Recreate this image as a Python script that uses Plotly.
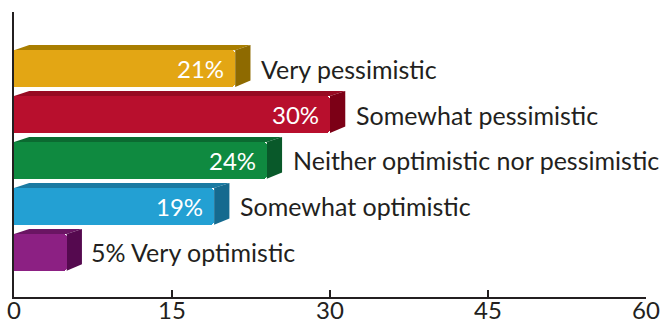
import plotly.graph_objects as go

categories = ["Very pessimistic", "Somewhat pessimistic", "Neither optimistic nor pessimistic",
              "Somewhat optimistic", "Very optimistic"]
values = [21, 30, 24, 19, 5]
front_colors = ["#E3A614", "#B80F2D", "#0F8A40", "#23A0D3", "#8C2083"]
top_colors = ["#A97E00", "#970A22", "#0B6A31", "#1A7AA2", "#6A1563"]
side_colors = ["#8E6A00", "#7C0016", "#09592A", "#156A8F", "#55094F"]
x_ticks = [0, 15, 30, 45, 60]

FONT = "Lato"
FS = 25
n = len(values)
pos = [n - 1 - i for i in range(n)]  # top to bottom
half = 0.4
depth = 1.45
lift = 0.11

fig = go.Figure()
fig.add_trace(go.Bar(
    x=values, y=pos, orientation="h", width=2 * half,
    marker=dict(color=front_colors, line=dict(width=0), cornerradius=4),
    hoverinfo="skip", showlegend=False,
))

shapes = []
annotations = []
for v, p, cat, tc, sc in zip(values, pos, categories, top_colors, side_colors):
    y0, y1 = p - half, p + half
    shapes.append(dict(type="path", xref="x", yref="y", layer="below",
                       path=f"M 0,{y1} L {v},{y1} L {v+depth},{y1+lift} L {depth},{y1+lift} Z",
                       fillcolor=tc, line=dict(width=0)))
    shapes.append(dict(type="path", xref="x", yref="y", layer="below",
                       path=f"M {v},{y0} L {v},{y1} L {v+depth},{y1+lift} L {v+depth},{y0+lift+0.03} Z",
                       fillcolor=sc, line=dict(width=0)))
    if v >= 10:
        annotations.append(dict(x=v, y=p, xref="x", yref="y", text=f"{v}%",
                                xanchor="right", yanchor="middle", xshift=-9, showarrow=False,
                                font=dict(family=FONT, size=FS - 1, color="white")))
        annotations.append(dict(x=v + depth, y=p, xref="x", yref="y", text=cat,
                                xanchor="left", yanchor="middle", xshift=9, showarrow=False,
                                font=dict(family=FONT, size=FS, color="#231F20")))
    else:
        annotations.append(dict(x=v + depth, y=p, xref="x", yref="y", text=f"{v}% {cat}",
                                xanchor="left", yanchor="middle", xshift=7, showarrow=False,
                                font=dict(family=FONT, size=FS, color="#231F20")))

fig.update_layout(
    width=666, height=326,
    margin=dict(l=14, r=20, t=12, b=29, autoexpand=False),
    paper_bgcolor="white", plot_bgcolor="white",
    shapes=shapes, annotations=annotations,
    xaxis=dict(range=[0, 60], tickvals=x_ticks, ticktext=[str(t) for t in x_ticks],
               showgrid=False, zeroline=False, showline=True, linecolor="#231F20", linewidth=2,
               ticks="inside", ticklen=7, tickwidth=2, tickcolor="#231F20", automargin=False,
               ticklabelstandoff=-9,
               tickfont=dict(family=FONT, size=24, color="#231F20")),
    yaxis=dict(range=[-0.97, 5.23], showgrid=False, zeroline=False, showline=True,
               linecolor="#231F20", linewidth=2, showticklabels=False, ticks="", automargin=False),
    bargap=0,
)

fig.write_html("out.html")
